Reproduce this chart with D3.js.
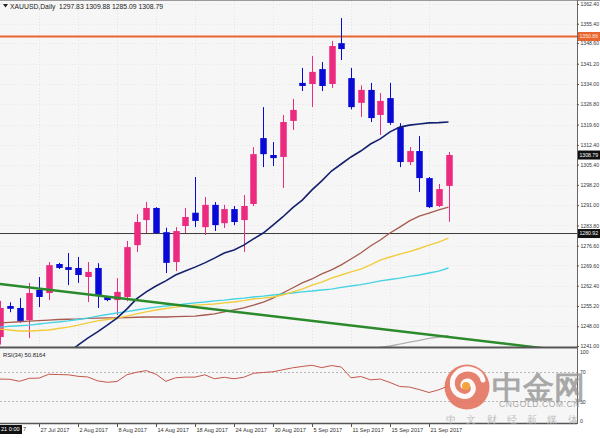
<!DOCTYPE html>
<html><head><meta charset="utf-8">
<script src="https://cdn.jsdelivr.net/npm/d3@7"></script>
<style>
html,body{margin:0;padding:0;background:#fff;}
svg{display:block;}
text{font-family:"Liberation Sans",Arial,sans-serif;}
</style></head><body>
<svg id="c" width="600" height="438"></svg>
<script>
const dates = ["21 Jul 2017","24 Jul 2017","25 Jul 2017","26 Jul 2017","27 Jul 2017","28 Jul 2017","31 Jul 2017","1 Aug 2017","2 Aug 2017","3 Aug 2017","4 Aug 2017","7 Aug 2017","8 Aug 2017","9 Aug 2017","10 Aug 2017","11 Aug 2017","14 Aug 2017","15 Aug 2017","16 Aug 2017","17 Aug 2017","18 Aug 2017","21 Aug 2017","22 Aug 2017","23 Aug 2017","24 Aug 2017","25 Aug 2017","28 Aug 2017","29 Aug 2017","30 Aug 2017","31 Aug 2017","1 Sep 2017","4 Sep 2017","5 Sep 2017","6 Sep 2017","7 Sep 2017","8 Sep 2017","11 Sep 2017","12 Sep 2017","13 Sep 2017","14 Sep 2017","15 Sep 2017","18 Sep 2017","19 Sep 2017","20 Sep 2017","21 Sep 2017","22 Sep 2017","25 Sep 2017"];
const open  = [1244.2,1255.2,1254.5,1250.2,1260.9,1259.8,1270.1,1269.0,1268.7,1265.5,1268.7,1258.4,1257.3,1258.4,1276.8,1285.7,1290.0,1281.4,1270.8,1283.6,1288.3,1283.2,1291.1,1284.6,1289.6,1285.7,1291.4,1314.8,1308.8,1308.1,1320.9,1334.4,1334.0,1339.3,1334.0,1348.5,1336.1,1327.3,1331.9,1323.0,1329.0,1318.7,1306.3,1310.2,1300.6,1290.7,1297.83];
const high  = [1257.0,1256.5,1258.0,1263.4,1265.5,1270.8,1270.5,1274.0,1272.6,1270.8,1270.4,1258.8,1265.1,1278.3,1287.8,1292.1,1290.3,1283.0,1283.2,1290.0,1301.0,1293.9,1292.1,1291.1,1290.7,1294.6,1311.6,1325.8,1313.4,1323.0,1328.7,1339.7,1343.9,1341.8,1349.3,1357.4,1339.7,1333.5,1334.4,1330.8,1334.4,1320.1,1311.6,1315.5,1301.0,1298.5,1309.88];
const low   = [1241.5,1253.0,1249.3,1243.8,1254.8,1257.3,1268.3,1262.6,1263.4,1256.6,1254.5,1256.9,1252.0,1256.9,1274.4,1281.1,1280.8,1266.9,1267.6,1281.1,1283.2,1280.4,1281.8,1282.9,1283.9,1274.4,1290.7,1304.5,1304.9,1297.1,1317.7,1331.5,1325.8,1331.5,1332.6,1342.5,1325.0,1322.3,1320.5,1315.9,1319.5,1304.5,1305.2,1295.7,1290.0,1290.3,1285.09];
const close = [1254.5,1254.2,1249.9,1259.8,1258.4,1269.7,1268.7,1268.0,1266.2,1267.3,1259.1,1257.3,1260.2,1276.1,1285.0,1290.0,1281.1,1270.5,1281.8,1286.8,1285.4,1291.1,1283.9,1289.6,1285.0,1290.7,1309.1,1309.1,1307.7,1320.5,1324.8,1333.3,1338.3,1333.3,1347.5,1346.4,1325.8,1331.9,1321.9,1328.0,1320.2,1306.3,1310.2,1300.6,1290.3,1296.7,1308.79];

const maNavy   = [null,null,null,null,null,null,1235.5,1238.5,1241.3,1243.8,1246.0,1248.4,1250.9,1254.1,1257.7,1260.2,1262.3,1264.1,1266.2,1267.6,1269.0,1270.5,1272.2,1274.0,1275.1,1276.8,1279.0,1281.1,1283.9,1286.8,1290.0,1292.8,1296.4,1299.6,1303.1,1305.6,1308.1,1310.2,1312.7,1314.5,1317.0,1318.7,1319.4,1319.8,1320.2,1320.3,1320.5];
const maBrown  = [1249.2,1249.4,1249.6,1249.8,1250.0,1250.2,1250.4,1250.5,1250.6,1250.8,1250.9,1251.0,1251.0,1251.1,1251.2,1251.3,1251.3,1251.3,1251.4,1251.5,1251.6,1252.0,1252.4,1253.1,1253.8,1254.5,1255.5,1256.6,1258.0,1259.8,1261.6,1263.4,1264.8,1266.6,1268.0,1269.8,1271.9,1274.0,1276.5,1278.6,1281.1,1283.2,1285.4,1287.1,1288.2,1289.3,1290.3];
const maYellow = [1247.0,1246.7,1246.3,1246.3,1246.5,1246.7,1247.2,1247.7,1248.4,1249.2,1249.9,1250.4,1250.9,1251.6,1252.4,1253.1,1253.8,1254.3,1254.8,1255.2,1255.5,1255.7,1255.9,1256.3,1256.6,1257.1,1257.7,1258.0,1258.4,1259.1,1260.2,1261.2,1262.6,1263.7,1265.1,1266.2,1267.3,1268.3,1269.8,1271.5,1272.6,1273.6,1274.5,1275.6,1276.8,1277.9,1279.3];
const maCyan   = [1247.7,1248.0,1248.2,1248.4,1248.8,1249.2,1249.5,1249.9,1250.4,1250.9,1251.6,1252.2,1252.7,1253.2,1253.8,1254.3,1254.8,1255.2,1255.5,1255.9,1256.3,1256.6,1257.0,1257.3,1257.7,1258.0,1258.4,1258.7,1259.1,1259.5,1259.8,1260.2,1260.5,1260.9,1261.2,1261.8,1262.3,1262.8,1263.4,1264.1,1264.6,1265.1,1265.7,1266.2,1266.9,1267.6,1268.7];
const maGray   = [null,null,null,null,null,null,null,null,null,null,null,null,null,null,null,null,null,null,null,null,null,null,null,null,null,null,null,null,null,null,null,null,null,null,null,null,null,null,1240.0,1240.5,1241.0,1241.7,1242.4,1243.0,1243.7,1244.2,1244.7];
const rsi = [59.9,59.6,56.9,60.9,61.2,66.3,65.9,65.6,63.6,62.7,57.6,55.6,56.7,65.6,68.9,71.2,66.3,56.9,61.6,62.5,62.5,65.6,60.3,62.3,60.3,62.3,67.6,68.7,69.6,72.3,74.9,76.7,78.3,75.2,77.9,76.0,61.6,63.3,58.9,59.9,55.3,50.0,49.2,45.9,42.0,45.6,50.8];

const priceTicks = [1362.40,1355.40,1348.60,1341.20,1334.00,1326.80,1319.60,1312.40,1305.40,1298.20,1291.00,1283.80,1276.60,1269.60,1262.40,1255.20,1248.00,1241.00];
const rsiTicks = [100,70,30,0];
const dateTickIdx = [4,8,12,16,20,24,28,32,36,40,44];
const trendLine = [{i:0,p:1263.0},{i:56,p:1240.1}];
const levelRed = 1350.86, levelBlack = 1280.92, lastPrice = 1308.79;
const titleText = "XAUUSD,Daily  1297.83 1309.88 1285.09 1308.79";
const rsiText = "RSI(34) 50.8164";

const svg = d3.select("#c");
const W = 600, H = 438, PR = 577;      // plot right edge
const mainTop = 1, mainBot = 347, rsiTop = 349, rsiBot = 423;
const AXF = 5.15;

const x = d3.scaleLinear().domain([0, 46]).range([0, 448.5]);
const y = d3.scaleLinear().domain([1241.0, 1362.4]).range([346, 4]);
const yr = d3.scaleLinear().domain([0, 100]).range([424, 349]);

// backgrounds
svg.append("rect").attr("width", W).attr("height", H).attr("fill", "#ffffff");
svg.append("rect").attr("x", 0).attr("y", mainTop).attr("width", PR).attr("height", mainBot - mainTop).attr("fill", "#f6f6f6");
svg.append("rect").attr("x", 0).attr("y", rsiTop).attr("width", PR).attr("height", rsiBot - rsiTop).attr("fill", "#f6f6f6");

const defs = svg.append("defs");
defs.append("clipPath").attr("id", "cm").append("rect").attr("x", 0).attr("y", mainTop).attr("width", PR).attr("height", mainBot - mainTop);
defs.append("clipPath").attr("id", "cr").append("rect").attr("x", 0).attr("y", rsiTop).attr("width", PR).attr("height", rsiBot - rsiTop);

// grid
const grid = svg.append("g").attr("clip-path", "url(#cm)");
grid.selectAll("line.h").data(priceTicks).join("line")
  .attr("x1", 0).attr("x2", PR).attr("y1", d => Math.round(y(d)) + 0.5).attr("y2", d => Math.round(y(d)) + 0.5)
  .attr("stroke", "#e6e6e6").attr("stroke-dasharray", "1,2");
grid.selectAll("line.v").data(dateTickIdx).join("line")
  .attr("x1", d => Math.round(x(d)) + 0.5).attr("x2", d => Math.round(x(d)) + 0.5).attr("y1", mainTop).attr("y2", mainBot)
  .attr("stroke", "#e6e6e6").attr("stroke-dasharray", "1,2");

const main = svg.append("g").attr("clip-path", "url(#cm)");

// horizontal levels
main.append("line").attr("x1", 0).attr("x2", PR).attr("y1", y(levelRed)).attr("y2", y(levelRed))
  .attr("stroke", "#e8652f").attr("stroke-width", 2);
main.append("line").attr("x1", 0).attr("x2", PR).attr("y1", y(levelBlack)).attr("y2", y(levelBlack))
  .attr("stroke", "#3a3a3a").attr("stroke-width", 1);

// candles
const idx = d3.range(dates.length);
const PINK = "#ec2a7f", BLUE = "#0a0ad6";
const col = i => close[i] >= open[i] ? PINK : BLUE;
main.selectAll("line.wick").data(idx).join("line")
  .attr("x1", i => Math.round(x(i)) + 0.5).attr("x2", i => Math.round(x(i)) + 0.5)
  .attr("y1", i => y(high[i])).attr("y2", i => y(low[i]))
  .attr("stroke", col).attr("stroke-width", 1);
const bw = 6.5;
main.selectAll("rect.body").data(idx).join("rect")
  .attr("x", i => Math.round(x(i)) + 0.5 - bw / 2)
  .attr("y", i => y(Math.max(open[i], close[i])))
  .attr("width", bw)
  .attr("height", i => Math.max(1.5, Math.abs(y(open[i]) - y(close[i]))))
  .attr("fill", col);

// moving averages
const lineGen = arr => d3.line().defined(i => arr[i] !== null).x(i => x(i)).y(i => y(arr[i]))(idx);
main.append("path").attr("d", lineGen(maGray)).attr("fill", "none").attr("stroke", "#b0b0b0").attr("stroke-width", 1.3);
main.append("path").attr("d", lineGen(maBrown)).attr("fill", "none").attr("stroke", "#a65a4e").attr("stroke-width", 1.3);
main.append("path").attr("d", lineGen(maCyan)).attr("fill", "none").attr("stroke", "#46d3e3").attr("stroke-width", 1.4);
main.append("path").attr("d", lineGen(maYellow)).attr("fill", "none").attr("stroke", "#f2cc3a").attr("stroke-width", 1.4);
main.append("path").attr("d", lineGen(maNavy)).attr("fill", "none").attr("stroke", "#14206e").attr("stroke-width", 1.6);

// trend line
main.append("path").attr("d", d3.line().x(d => x(d.i)).y(d => y(d.p))(trendLine))
  .attr("fill", "none").attr("stroke", "#2b8a2b").attr("stroke-width", 2.4);

// RSI panel
const rp = svg.append("g").attr("clip-path", "url(#cr)");
[70, 30].forEach(v => {
  rp.append("line").attr("x1", 0).attr("x2", PR).attr("y1", Math.round(yr(v)) + 0.5).attr("y2", Math.round(yr(v)) + 0.5)
    .attr("stroke", "#b8b8b8").attr("stroke-dasharray", "2,2");
});
rp.append("path").attr("d", d3.line().x(i => x(i)).y(i => yr(rsi[i]))(idx))
  .attr("fill", "none").attr("stroke", "#c4574c").attr("stroke-width", 1);

// frames
svg.append("line").attr("x1", 0).attr("x2", W).attr("y1", 0.5).attr("y2", 0.5).attr("stroke", "#9a9a9a");
svg.append("line").attr("x1", 0).attr("x2", PR).attr("y1", 347.5).attr("y2", 347.5).attr("stroke", "#555").attr("stroke-width", 2);
svg.append("line").attr("x1", 0).attr("x2", PR).attr("y1", 423.5).attr("y2", 423.5).attr("stroke", "#555").attr("stroke-width", 1.5);
svg.append("line").attr("x1", PR + 0.5).attr("x2", PR + 0.5).attr("y1", 0).attr("y2", 424).attr("stroke", "#666").attr("stroke-width", 1);

// price axis
const ax = svg.append("g").attr("transform", `translate(${PR},0)`)
  .call(d3.axisRight(y).tickValues(priceTicks).tickSize(2).tickPadding(1.5).tickFormat(d3.format(".2f")));
ax.select(".domain").remove();
ax.selectAll("line").attr("stroke", "#555");
ax.selectAll("text").attr("font-size", AXF).attr("fill", "#333").attr("font-family", "Liberation Sans, Arial, sans-serif");

// rsi axis
const axr = svg.append("g").attr("transform", `translate(${PR},0)`)
  .call(d3.axisRight(yr).tickValues(rsiTicks).tickSize(0).tickPadding(3).tickFormat(d3.format("d")));
axr.select(".domain").remove();
axr.selectAll("text").attr("font-size", AXF).attr("fill", "#333").attr("font-family", "Liberation Sans, Arial, sans-serif")
  .attr("dy", d => d === 100 ? "0.9em" : d === 0 ? "-0.2em" : "0.32em");

// price label boxes
function priceBox(v, fill, tcol) {
  const g = svg.append("g");
  g.append("rect").attr("x", PR + 1).attr("y", y(v) - 4.5).attr("width", W - PR - 1).attr("height", 9).attr("fill", fill);
  g.append("text").attr("x", PR + 2.5).attr("y", y(v)).attr("dy", "0.35em").attr("font-size", AXF).attr("fill", tcol).text(v.toFixed(2));
}
priceBox(levelRed, "#e8652f", "#ffe8dc");
priceBox(levelBlack, "#111", "#fff");
priceBox(lastPrice, "#111", "#fff");

// date axis
const axb = svg.append("g").attr("transform", `translate(0,${rsiBot + 1})`)
  .call(d3.axisBottom(x).tickValues(dateTickIdx).tickSize(3).tickPadding(1).tickFormat(i => dates[i]));
axb.select(".domain").remove();
axb.selectAll("line").attr("stroke", "#555");
axb.selectAll("text").attr("font-size", 5.6).attr("fill", "#333").attr("text-anchor", "start").attr("x", 1)
  .attr("font-family", "Liberation Sans, Arial, sans-serif");
// crosshair time box
svg.append("rect").attr("x", 0).attr("y", 425).attr("width", 22).attr("height", 9).attr("fill", "#111");
svg.append("text").attr("x", 1).attr("y", 429.5).attr("dy", "0.35em").attr("font-size", 5.6).attr("fill", "#fff").text("21 0:00");
svg.append("text").attr("x", 23).attr("y", 429.5).attr("dy", "0.35em").attr("font-size", 5.6).attr("fill", "#333").text("7");

// titles
svg.append("path").attr("d", "M3,4 L8,4 L5.5,7.5 Z").attr("fill", "#222");
svg.append("text").attr("x", 10).attr("y", 6.5).attr("dy", "0.35em").attr("font-size", 6.8).attr("fill", "#222")
  .attr("xml:space", "preserve").text(titleText);
svg.append("text").attr("x", 3).attr("y", 355).attr("dy", "0.35em").attr("font-size", 5.8).attr("fill", "#222").text(rsiText);

// watermark logo
const wm = svg.append("g");
wm.append("circle").attr("cx", 467).attr("cy", 387).attr("r", 22.5).attr("fill", "#e4715d").attr("opacity", 0.88);
wm.append("path").attr("d", "M483,380 C480,369 466,366 458,372 C449,379 451,393 462,396 C470,398 476,391 472,384 C469,379 462,381 463,386")
  .attr("fill", "none").attr("stroke", "#fff").attr("stroke-width", 5).attr("stroke-linecap", "round").attr("opacity", 0.95);
wm.append("circle").attr("cx", 466).attr("cy", 386).attr("r", 4).attr("fill", "#f3a43c");
wm.append("text").attr("x", 492).attr("y", 398).attr("font-size", 31).attr("font-weight", 700)
  .attr("font-family", "Noto Sans CJK SC").attr("fill", "#8f8f8f").attr("opacity", 0.75).attr("letter-spacing", 0).text("中金网");
wm.append("text").attr("x", 499).attr("y", 407).attr("font-size", 8.5).attr("font-family", "Liberation Sans, Arial, sans-serif")
  .attr("fill", "#9a9a9a").attr("opacity", 0.85).attr("letter-spacing", 0.6).text("CNGOLD.COM.CN");
wm.append("text").attr("x", 446).attr("y", 423).attr("font-size", 9.5).attr("font-family", "Noto Sans CJK SC")
  .attr("fill", "#b5b5b5").attr("opacity", 0.85).attr("letter-spacing", 10.3).text("中文财经新媒体");
</script>
</body></html>
